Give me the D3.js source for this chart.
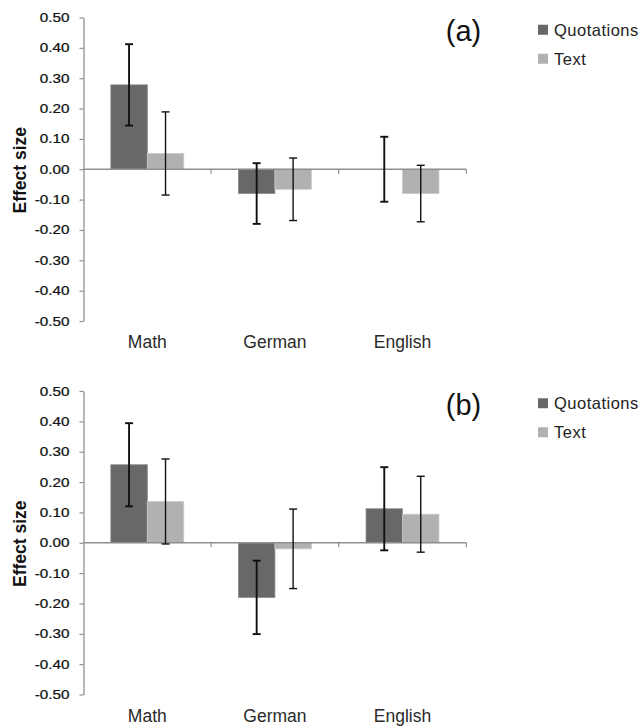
<!DOCTYPE html>
<html>
<head>
<meta charset="utf-8">
<script src="https://cdn.jsdelivr.net/npm/d3@7"></script>
<style>
  body { margin: 0; background: #fff; }
  text { font-family: "Liberation Sans", Arial, sans-serif; }
</style>
</head>
<body>
<div id="chart"></div>
<script>
//////////////////// data ///////////////////
const subjects = ["Math", "German", "English"];
const groups = ["Quotations", "Text"];
const yTicks = [0.5, 0.4, 0.3, 0.2, 0.1, 0.0, -0.1, -0.2, -0.3, -0.4, -0.5];

// panel (a)
const quotesA = [0.278, -0.08, 0.0];
const quotesErrA = [0.134, 0.1, 0.107];
const textA = [0.052, -0.066, -0.08];
const textErrA = [0.137, 0.103, 0.093];

// panel (b)
const quotesB = [0.257, -0.18, 0.112];
const quotesErrB = [0.137, 0.121, 0.137];
const textB = [0.136, -0.02, 0.094];
const textErrB = [0.14, 0.131, 0.125];

//////////////////// layout ///////////////////
const W = 644, H = 726;
const axisX = 83.5, axisEnd = 466.3;
const plotH = 303.5;
const colors = { Quotations: "#686868", Text: "#b1b1b1" };
const edges = { Quotations: "#8a8a8a", Text: "#c9c9c9" };

const svg = d3.select("#chart").append("svg")
    .attr("width", W)
    .attr("height", H);

//x scales: one band per subject, one sub-band per series
const x0 = d3.scaleBand().domain(subjects).range([axisX, axisEnd]);
const x1 = d3.scaleBand().domain(groups).range([0, x0.bandwidth()]).paddingOuter(0.75);
const y = d3.scaleLinear().domain([-0.5, 0.5]).range([plotH, 0]);

function makeRows(q, qErr, t, tErr) {
    let rows = [];
    subjects.forEach((s, i) => {
        rows.push({ subject: s, group: "Quotations", value: q[i], err: qErr[i] });
        rows.push({ subject: s, group: "Text", value: t[i], err: tErr[i] });
    });
    return rows;
}

function drawPanel(top, label, rows) {
    const g = svg.append("g").attr("transform", `translate(0,${top})`);
    const y0 = y(0);

    //y axis (tick labels are a bit wide in the original, so stretch them)
    const yAxis = d3.axisLeft(y)
        .tickValues(yTicks)
        .tickFormat((d) => d.toFixed(2))
        .tickSize(4)
        .tickSizeOuter(0);
    const ya = g.append("g").attr("transform", `translate(${axisX},0)`).call(yAxis);
    ya.select(".domain").attr("stroke", "#8f8f8f").attr("stroke-width", 1.3);
    ya.selectAll(".tick line").attr("stroke", "#8f8f8f").attr("stroke-width", 1.2);
    ya.selectAll(".tick text")
        .attr("x", -14 / 1.22)
        .attr("transform", "scale(1.22,1)")
        .attr("fill", "#111")
        .attr("stroke", "#111")
        .attr("stroke-width", 0.25)
        .style("font-size", "12.5px")
        .style("font-family", "'Liberation Sans', Arial, sans-serif");

    //bars
    g.selectAll(".bar")
        .data(rows)
        .enter()
        .append("rect")
        .attr("class", "bar")
        .attr("x", (d) => x0(d.subject) + x1(d.group))
        .attr("width", x1.bandwidth())
        .attr("y", (d) => y(Math.max(0, d.value)))
        .attr("height", (d) => Math.abs(y(d.value) - y0))
        .attr("fill", (d) => colors[d.group])
        .attr("stroke", (d) => edges[d.group])
        .attr("stroke-width", 0.8);

    //x axis line at zero with category boundary ticks
    g.append("line")
        .attr("x1", axisX).attr("x2", axisEnd)
        .attr("y1", y0).attr("y2", y0)
        .attr("stroke", "#8f8f8f")
        .attr("stroke-width", 1.3);
    g.selectAll(".xtick")
        .data(subjects)
        .enter()
        .append("line")
        .attr("class", "xtick")
        .attr("x1", (d) => x0(d) + x0.bandwidth())
        .attr("x2", (d) => x0(d) + x0.bandwidth())
        .attr("y1", y0).attr("y2", y0 + 4.5)
        .attr("stroke", "#8f8f8f")
        .attr("stroke-width", 1.2);

    //error bars
    const eb = g.selectAll(".err")
        .data(rows)
        .enter()
        .append("g")
        .attr("class", "err")
        .attr("transform", (d) => `translate(${x0(d.subject) + x1(d.group) + x1.bandwidth() / 2},0)`)
        .attr("stroke", "#111")
        .attr("stroke-width", (d) => (d.group === "Quotations" ? 1.9 : 1.4));
    eb.append("line")
        .attr("y1", (d) => y(d.value + d.err))
        .attr("y2", (d) => y(d.value - d.err));
    eb.append("line")
        .attr("x1", -4).attr("x2", 4)
        .attr("y1", (d) => y(d.value + d.err))
        .attr("y2", (d) => y(d.value + d.err));
    eb.append("line")
        .attr("x1", -4).attr("x2", 4)
        .attr("y1", (d) => y(d.value - d.err))
        .attr("y2", (d) => y(d.value - d.err));

    //category labels under the plot
    g.selectAll(".cat")
        .data(subjects)
        .enter()
        .append("text")
        .attr("class", "cat")
        .attr("x", (d) => x0(d) + x0.bandwidth() / 2)
        .attr("y", y0 + 179)
        .attr("text-anchor", "middle")
        .attr("fill", "#2a2a2a")
        .style("font-size", "17.5px")
        .text((d) => d);

    //y axis title
    g.append("text")
        .attr("transform", `translate(26,${y0 + 1}) rotate(-90)`)
        .attr("text-anchor", "middle")
        .attr("fill", "#111")
        .style("font-size", "17.5px")
        .style("font-weight", "bold")
        .text("Effect size");

    //panel label
    g.append("text")
        .attr("x", 463.5)
        .attr("y", y0 - 128)
        .attr("text-anchor", "middle")
        .attr("fill", "#111")
        .style("font-size", "29px")
        .text(label);

    //legend
    const leg = g.selectAll(".leg")
        .data(groups)
        .enter()
        .append("g")
        .attr("class", "leg")
        .attr("transform", (d, i) => `translate(538,${y0 - 139.5 + i * 29})`);
    leg.append("rect")
        .attr("x", 0).attr("y", -5)
        .attr("width", 10).attr("height", 10)
        .attr("fill", (d) => colors[d]);
    leg.append("text")
        .attr("x", 16)
        .attr("y", 6)
        .attr("fill", "#222")
        .style("font-size", "16.5px")
        .style("letter-spacing", "0.5px")
        .text((d) => d);
}

drawPanel(17.5, "(a)", makeRows(quotesA, quotesErrA, textA, textErrA));
drawPanel(391, "(b)", makeRows(quotesB, quotesErrB, textB, textErrB));
</script>
</body>
</html>
